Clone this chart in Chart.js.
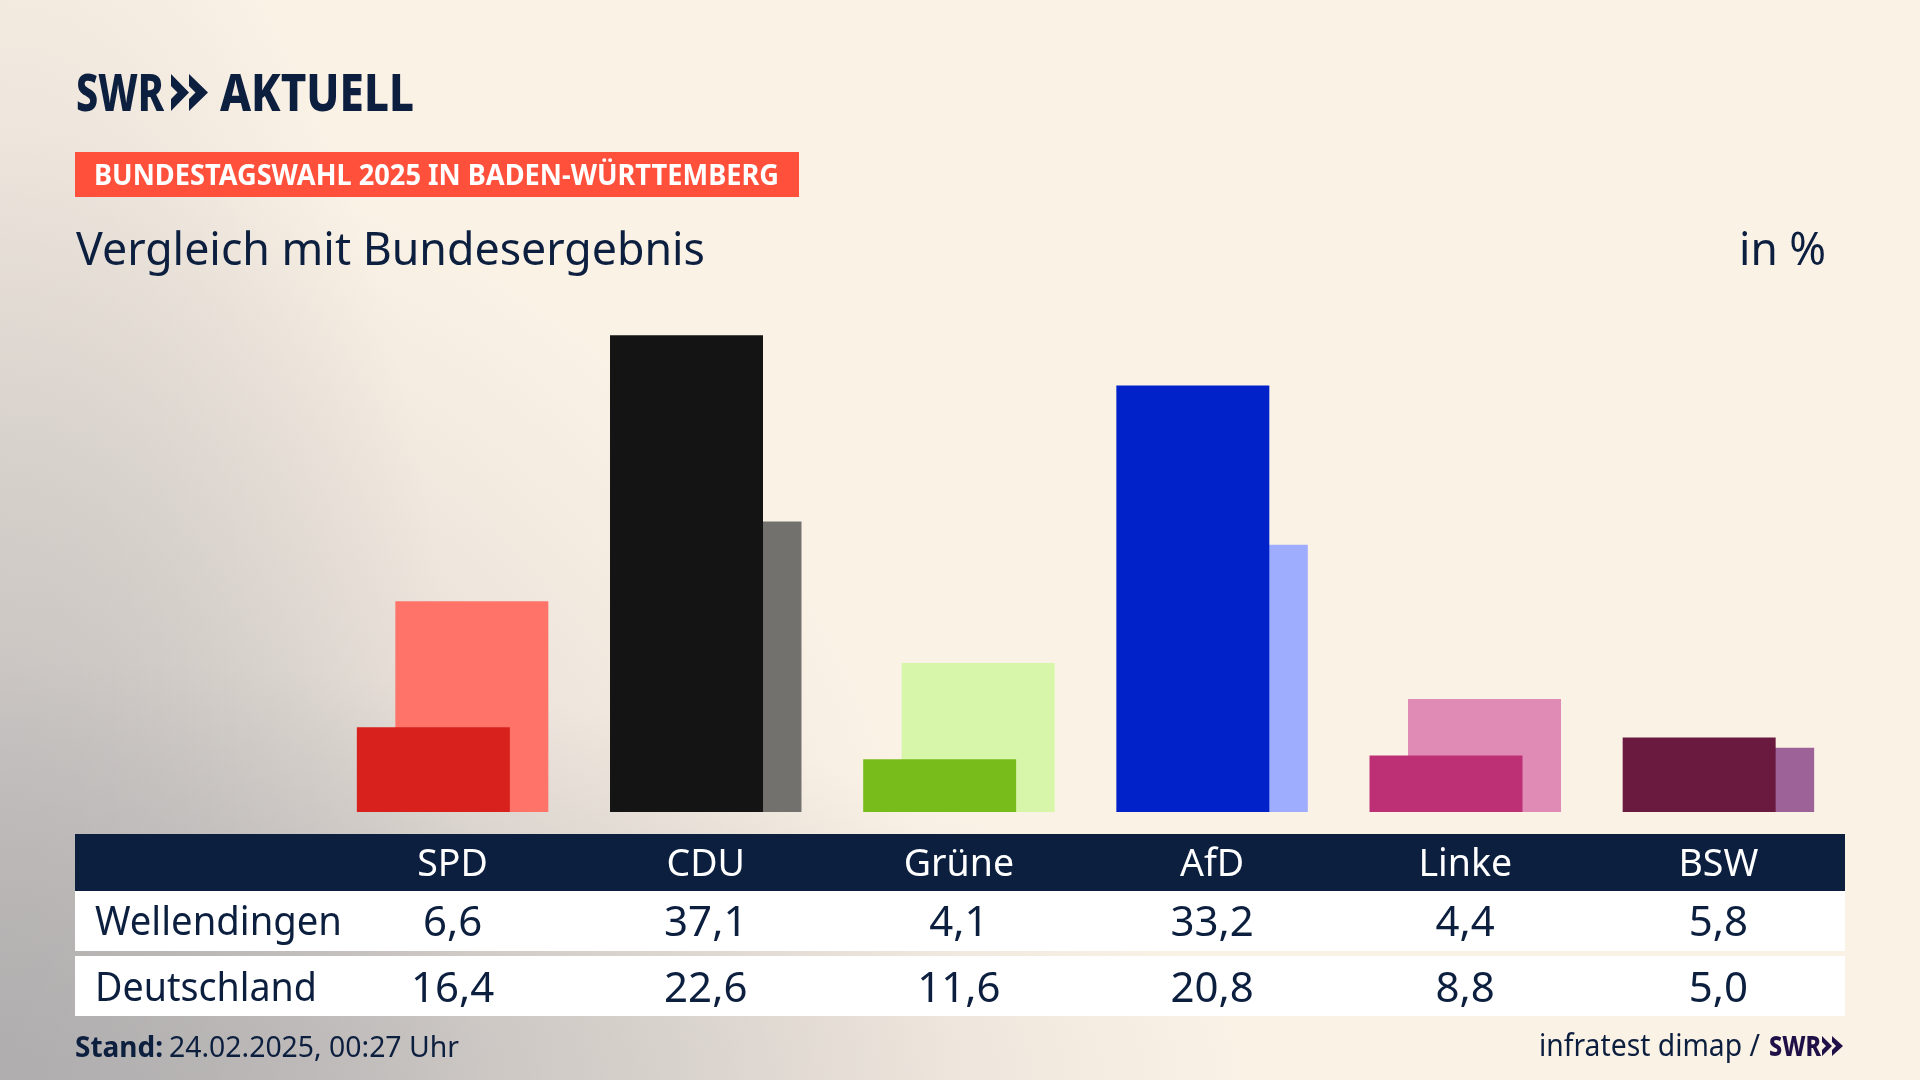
<!DOCTYPE html>
<html lang="de">
<head>
<meta charset="utf-8">
<title>Bundestagswahl 2025 in Baden-Württemberg</title>
<script src="https://cdn.jsdelivr.net/npm/chart.js@4"></script>
<style>
  html, body { margin: 0; padding: 0; }
  body {
    width: 1920px; height: 1080px; overflow: hidden; position: relative;
    font-family: "Noto Sans", sans-serif; color: #0c1f3f;
    background:
      radial-gradient(ellipse 1250px 420px at 0 100%, rgba(172,170,172,.72), rgba(172,170,172,0)),
      radial-gradient(ellipse 480px 1300px at 0 100%, rgba(172,170,172,.62), rgba(172,170,172,0)),
      radial-gradient(circle 950px at 0 100%, rgba(188,184,184,.7), rgba(188,184,184,0)),
      #fbf2e6;
  }
  .box { position: absolute; }
  .txt { position: absolute; line-height: 0; white-space: nowrap; }
  canvas { position: absolute; left: 0; top: 0; }
</style>
</head>
<body>
<div class="box" style="left:75px;top:152px;width:724px;height:45px;background:#ff503c"></div>
<div class="box" style="left:75px;top:834px;width:1770px;height:57px;background:#0c1f3f"></div>
<div class="box" style="left:75px;top:891px;width:1770px;height:60px;background:#fff"></div>
<div class="box" style="left:75px;top:956px;width:1770px;height:60px;background:#fff"></div>
<canvas id="chart" width="1920" height="1080"></canvas>
<svg class="box" style="left:171px;top:74px" width="38" height="37" viewBox="0 0 38 37" fill="#0c1f3f">
  <polygon points="0,0 18,18.5 0,37 0,25 6.5,18.5 0,12"/>
  <polygon points="18,0 37,18.5 18,37 18,25 24.5,18.5 18,12"/>
</svg>
<svg class="box" style="left:1822px;top:1036px" width="21" height="20" viewBox="0 0 21 20" fill="#1f1147">
  <polygon points="0,0 10,10 0,20 0,14 4,10 0,6"/>
  <polygon points="10,0 21,10 10,20 10,14 14,10 10,6"/>
</svg>
<script>
const categories = ['SPD', 'CDU', 'Grüne', 'AfD', 'Linke', 'BSW'];
const rowLabels = ['Wellendingen', 'Deutschland'];
const wellendingenValues = [6.6, 37.1, 4.1, 33.2, 4.4, 5.8];
const deutschlandValues = [16.4, 22.6, 11.6, 20.8, 8.8, 5.0];
const darkColors = ['#d8201c', '#141414', '#78bc1b', '#0022c8', '#bd3075', '#6a1a3f'];
const lightColors = ['#ff7369', '#72716e', '#d8f6a9', '#9fadff', '#e08ab6', '#9d6399'];

const chart = new Chart(document.getElementById('chart'), {
  type: 'bar',
  data: {
    labels: categories,
    datasets: [
      { label: rowLabels[0], data: wellendingenValues, backgroundColor: darkColors },
      { label: rowLabels[1], data: deutschlandValues, backgroundColor: lightColors }
    ]
  },
  options: {
    responsive: false,
    animation: false,
    devicePixelRatio: 1,
    // slot width of 38.5px, so the 153px bars overlap and sit 38.5px apart
    categoryPercentage: 77 / 253.2,
    barPercentage: 153 / 38.5,
    layout: { padding: { left: 326, right: 75, top: 298, bottom: 268 } },
    plugins: { legend: { display: false }, tooltip: { enabled: false } },
    scales: {
      x: { display: false },
      y: { display: false, min: 0, max: 40 }
    }
  }
});

// text by baseline; width = squeeze to that width, center = x is the middle
function addText(text, x, baseline, size, opts = {}) {
  const el = document.createElement('div');
  el.className = 'txt';
  el.textContent = text;
  el.style.fontSize = size + 'px';
  el.style.fontWeight = opts.weight || 400;
  el.style.color = opts.color || '#0c1f3f';
  el.style.top = (baseline - 0.388 * size) + 'px';
  document.body.appendChild(el);
  const natural = el.getBoundingClientRect().width;
  const scale = opts.width ? opts.width / natural : 1;
  el.style.transformOrigin = 'left center';
  el.style.transform = `scaleX(${scale})`;
  el.style.left = (opts.center ? x - natural * scale / 2 : x) + 'px';
}

function formatValue(v) {
  return v.toFixed(1).replace('.', ',');
}

// header
addText('SWR', 76, 111, 51, { weight: 800, width: 88 });
addText('AKTUELL', 220, 111, 51, { weight: 800, width: 194 });
addText('BUNDESTAGSWAHL 2025 IN BADEN-WÜRTTEMBERG', 94, 185, 28, { weight: 700, color: '#fff', width: 685 });
addText('Vergleich mit Bundesergebnis', 76, 265, 46, { width: 629 });
addText('in %', 1739, 265, 46, { width: 87 });

// table, columns follow the chart's category scale
categories.forEach((name, i) => {
  const cx = chart.scales.x.getPixelForTick(i);
  addText(name, cx, 877, 37.5, { color: '#fff', center: true });
  addText(formatValue(wellendingenValues[i]), cx, 936, 42, { center: true });
  addText(formatValue(deutschlandValues[i]), cx, 1002, 42, { center: true });
});
addText(rowLabels[0], 95, 936, 40, { width: 247 });
addText(rowLabels[1], 95, 1002, 40, { width: 222 });

// footer
addText('Stand:', 75, 1057, 29, { weight: 700, width: 88 });
addText('24.02.2025, 00:27 Uhr', 169, 1057, 29, { width: 290 });
addText('infratest dimap /', 1539, 1057, 30, { width: 221 });
addText('SWR', 1769, 1056, 28, { weight: 800, color: '#1f1147', width: 52 });
</script>
</body>
</html>
